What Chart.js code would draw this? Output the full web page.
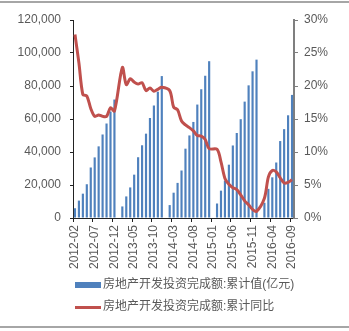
<!DOCTYPE html>
<html>
<head>
<meta charset="utf-8">
<script src="https://cdn.jsdelivr.net/npm/chart.js@4.4.1/dist/chart.umd.min.js"></script>
<style>
  html, body { margin: 0; padding: 0; background: #fff; }
  #wrap { width: 349px; height: 331px; position: relative; }
</style>
</head>
<body>
<div id="wrap"><canvas id="c" width="349" height="331"></canvas></div>
<script>
// Monthly categories 2012-02 .. 2016-09 (January figures are reported together with February)
const months = [];
for (let y = 2012; y <= 2016; y++) {
  for (let m = 1; m <= 12; m++) {
    if (y === 2012 && m < 2) continue;
    if (y === 2016 && m > 9) break;
    months.push(y + '-' + String(m).padStart(2, '0'));
  }
}

// 房地产开发投资完成额:累计值(亿元), null for January
const investCum = [
  5920, 10546, 14747, 20459, 30610, 36728, 43423, 50616, 57269, 64530, 71804,
  null, 7003, 13078, 18532, 26270, 36828, 44078, 51120, 60597, 68184, 76543, 86013,
  null, 7830, 15339, 21274, 28784, 42019, 50037, 58220, 68751, 78031, 86208, 95036,
  null, 8786, 16577, 22626, 32315, 43955, 51519, 59883, 70535, 80395, 88897, 95979,
  null, 9220, 17677, 24650, 33632, 46631, 53853, 62249, 74598
];

// 房地产开发投资完成额:累计同比(%), null for January
const investYoY = [
  27.8, 23.5, 18.7, 18.5, 16.6, 15.4, 15.6, 15.4, 15.4, 16.7, 16.2,
  null, 22.8, 20.2, 21.1, 20.6, 20.3, 20.5, 19.3, 19.7, 19.2, 19.5, 19.8,
  null, 19.3, 16.8, 16.4, 14.7, 14.1, 13.7, 13.2, 12.5, 12.4, 11.9, 10.5,
  null, 10.4, 8.5, 6.0, 5.1, 4.6, 4.3, 3.5, 2.6, 2.0, 1.3, 1.0,
  null, 3.0, 6.2, 7.2, 7.0, 6.1, 5.3, 5.4, 5.8
];

const seriesNames = ['房地产开发投资完成额:累计值(亿元)', '房地产开发投资完成额:累计同比'];

const BLUE = '#4F81BD';
const RED = '#C0504D';
const TEXT = '#595959';
const FONT = '"Liberation Sans", "Noto Sans CJK SC", sans-serif';

// Legend stacked below the axis plus the thin frame rules at top and bottom
const decorPlugin = {
  id: 'decor',
  afterDraw(chart) {
    const ctx = chart.ctx;
    const left = chart.chartArea.left + 2;
    ctx.save();
    // frame rules
    ctx.fillStyle = '#a6a6a6';
    ctx.fillRect(0, 1, 349, 2);
    ctx.fillRect(0, 326, 349, 2);
    // legend
    ctx.font = '12px ' + FONT;
    ctx.fillStyle = TEXT;
    ctx.textBaseline = 'middle';
    ctx.textAlign = 'left';
    ctx.fillStyle = BLUE;
    ctx.fillRect(left, 282, 26, 6);
    ctx.fillStyle = TEXT;
    ctx.fillText(chart.data.datasets[0].label, left + 28, 285);
    ctx.strokeStyle = RED;
    ctx.lineWidth = 3;
    ctx.beginPath();
    ctx.moveTo(left, 307.5);
    ctx.lineTo(left + 26, 307.5);
    ctx.stroke();
    ctx.fillText(chart.data.datasets[1].label, left + 28, 307);
    ctx.restore();
  }
};

new Chart(document.getElementById('c'), {
  data: {
    labels: months,
    datasets: [
      {
        type: 'bar',
        label: seriesNames[0],
        data: investCum,
        backgroundColor: BLUE,
        yAxisID: 'y',
        barPercentage: 0.55,
        categoryPercentage: 1.0,
        order: 2
      },
      {
        type: 'line',
        label: seriesNames[1],
        data: investYoY,
        borderColor: RED,
        borderWidth: 3,
        pointRadius: 0,
        tension: 0.3,
        spanGaps: true,
        yAxisID: 'y2',
        order: 1
      }
    ]
  },
  options: {
    responsive: false,
    animation: false,
    layout: { padding: { top: 20, bottom: 61, left: 0, right: 0 } },
    plugins: {
      legend: { display: false },
      tooltip: { enabled: false }
    },
    scales: {
      x: {
        offset: true,
        grid: {
          offset: true,
          drawOnChartArea: false,
          tickLength: 4,
          color: (c) => (c.index % 5 === 0 ? '#222' : 'rgba(0,0,0,0)')
        },
        border: { color: '#222', width: 1 },
        ticks: {
          autoSkip: false,
          minRotation: 90,
          maxRotation: 90,
          padding: 3,
          color: TEXT,
          font: { family: FONT, size: 12 },
          callback: function (v, i) { return i % 5 === 0 ? months[i] : ''; }
        },
        afterFit: (s) => { s.height = 52; }
      },
      y: {
        position: 'left',
        min: 0,
        max: 120000,
        grid: { drawOnChartArea: false, tickLength: 3, color: '#222' },
        border: { color: '#222', width: 1 },
        ticks: {
          stepSize: 20000,
          padding: 9,
          color: TEXT,
          font: { family: FONT, size: 12 },
          callback: (v) => v.toLocaleString('en-US')
        },
        afterFit: (s) => { s.width = 73; }
      },
      y2: {
        position: 'right',
        min: 0,
        max: 30,
        grid: { drawOnChartArea: false, tickLength: 4, color: '#7f7f7f', lineWidth: 1 },
        border: { color: '#7f7f7f', width: 2 },
        ticks: {
          stepSize: 5,
          padding: 6,
          color: TEXT,
          font: { family: FONT, size: 12 },
          callback: (v) => v + '%'
        },
        afterFit: (s) => { s.width = 55; }
      }
    }
  },
  plugins: [decorPlugin]
});
</script>
</body>
</html>
